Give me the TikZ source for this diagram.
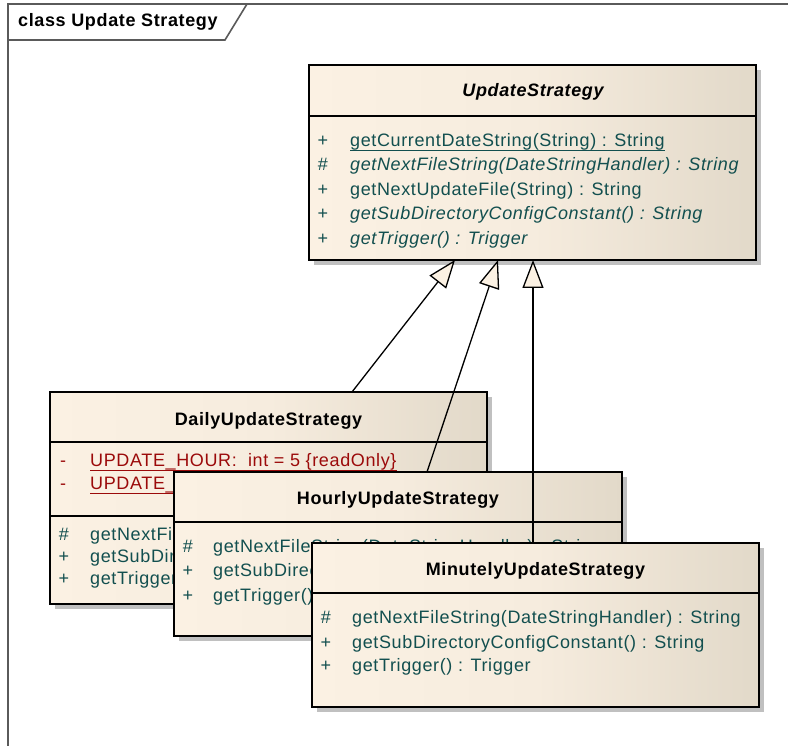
\documentclass[tikz,border=0pt]{standalone}
\usepackage{fontspec}
\usetikzlibrary{shadows,arrows.meta}

\newfontfamily\umlfam[LetterSpace=3.5]{Liberation Sans}
\newcommand\umlfont{\umlfam\fontsize{18pt}{21pt}\selectfont}

\definecolor{creamL}{HTML}{FBF1E3}
\definecolor{creamM}{HTML}{F6ECDE}
\definecolor{creamR}{HTML}{E2D9C9}
\definecolor{shadowgray}{HTML}{C0C0C0}
\definecolor{framegray}{HTML}{5A5A5A}
\definecolor{opteal}{HTML}{124F4F}
\definecolor{attrred}{HTML}{9B0A0A}

\pgfdeclarehorizontalshading{umlfill}{100bp}{%
  color(0bp)=(creamL); color(25bp)=(creamL); color(50bp)=(creamM);
  color(75bp)=(creamR); color(100bp)=(creamR)}

\tikzset{
  classbox/.style={rectangle, draw=black, line width=1.6pt, outer sep=0pt,
    inner sep=0pt, anchor=north west, shading=umlfill,
    drop shadow={shadow xshift=5pt, shadow yshift=-5pt, fill=shadowgray, opacity=1}},
  classname/.style={font=\umlfont\bfseries, text=black, inner sep=0pt, anchor=center},
  compsep/.style={line width=1.1pt, draw=black},
  vis/.style={font=\umlfont, inner sep=0pt, text height=13pt, text depth=4pt, anchor=center},
  member/.style={font=\umlfont, inner sep=0pt, text height=13pt, text depth=4pt, anchor=west},
  op/.style={text=opteal},
  attr/.style={text=attrred},
  staticop/.style={draw=opteal, line width=1pt},
  staticattr/.style={draw=attrred, line width=1.4pt},
  generalize/.style={draw=black, line width=1.3pt,
    -{Triangle[length=28pt, width=21pt, fill=creamL]}},
  frameline/.style={draw=framegray, line width=1.6pt}
}

\begin{document}
\begin{tikzpicture}[x=1pt, y=-1pt]
\useasboundingbox (0,0) rectangle (788,746);

% diagram frame with its name tab
\draw[frameline] (788,4) -- (8,4) -- (8,746);
\draw[frameline] (8,40) -- (225,40) -- (247,4);
\node[font=\umlfont\bfseries, anchor=west, inner sep=0pt] (frametitle) at (18,22) {class Update Strategy};

% abstract base class
\node[classbox, minimum width=447pt, minimum height=195pt] (base) at (309,65) {};
\draw[compsep] ([yshift=-51pt]base.north west) -- ([yshift=-51pt]base.north east);
\node[classname, font=\umlfont\bfseries\itshape] (baseName) at (533,92) {UpdateStrategy};
\node[vis, op] (bv1) at (323,142) {+};
\node[member, op] (bm1) at (350,142) {getCurrentDateString(String) : String};
\draw[staticop] (bm1.south west) -- (bm1.south east);
\node[vis, op] (bv2) at (323,166) {\#};
\node[member, op, font=\umlfont\itshape] (bm2) at (350,166) {getNextFileString(DateStringHandler) : String};
\node[vis, op] (bv3) at (323,191) {+};
\node[member, op] (bm3) at (350,191) {getNextUpdateFile(String) : String};
\node[vis, op] (bv4) at (323,215) {+};
\node[member, op, font=\umlfont\itshape] (bm4) at (350,215) {getSubDirectoryConfigConstant() : String};
\node[vis, op] (bv5) at (323,240) {+};
\node[member, op, font=\umlfont\itshape] (bm5) at (350,240) {getTrigger() : Trigger};

% daily strategy
\node[classbox, minimum width=437pt, minimum height=212pt] (daily) at (50,392) {};
\draw[compsep] ([yshift=-50pt]daily.north west) -- ([yshift=-50pt]daily.north east);
\draw[compsep] ([yshift=-124pt]daily.north west) -- ([yshift=-124pt]daily.north east);
\node[classname] (dailyName) at (268.5,421) {DailyUpdateStrategy};
\node[vis, attr] (dv1) at (63,462) {-};
\node[member, attr] (da1) at (90,462) {UPDATE\_HOUR:\ \ int = 5 \{readOnly\}};
\draw[staticattr] (da1.south west) -- (da1.south east);
\node[vis, attr] (dv2) at (63,485) {-};
\node[member, attr] (da2) at (90,485) {UPDATE\_\hspace{40pt}};
\draw[staticattr] (da2.south west) -- (da2.south east);
\node[vis, op] (dv3) at (64,536) {\#};
\node[member, op] (dm1) at (90,536) {getNextFileString(DateStringHandler) : String};
\node[vis, op] (dv4) at (64,558) {+};
\node[member, op] (dm2) at (90,558) {getSubDirectoryConfigConstant() : String};
\node[vis, op] (dv5) at (64,580) {+};
\node[member, op] (dm3) at (90,580) {getTrigger() : Trigger};

% generalizations of daily and hourly
\draw[generalize] ([xshift=302pt]daily.north west) -- ([xshift=146pt]base.south west);
\coordinate (hourlyTop) at (427,472);
\draw[generalize] (hourlyTop) -- ([xshift=189pt]base.south west);

% hourly strategy
\node[classbox, minimum width=448pt, minimum height=164pt] (hourly) at (174,472) {};
\draw[compsep] ([yshift=-50pt]hourly.north west) -- ([yshift=-50pt]hourly.north east);
\node[classname] (hourlyName) at (398,500) {HourlyUpdateStrategy};
\node[vis, op] (hv1) at (188,548) {\#};
\node[member, op] (hm1) at (213,548) {getNextFileString(DateStringHandler) : String};
\node[vis, op] (hv2) at (188,572) {+};
\node[member, op] (hm2) at (213,572) {getSubDirectoryConfigConstant() : String};
\node[vis, op] (hv3) at (188,597) {+};
\node[member, op] (hm3) at (213,597) {getTrigger() : Trigger};

% generalization of minutely
\coordinate (minutelyTop) at (533,543);
\draw[generalize] (minutelyTop) -- ([xshift=224pt]base.south west);

% minutely strategy
\node[classbox, minimum width=447pt, minimum height=164pt] (minutely) at (312,543) {};
\draw[compsep] ([yshift=-50pt]minutely.north west) -- ([yshift=-50pt]minutely.north east);
\node[classname] (minutelyName) at (535.5,571) {MinutelyUpdateStrategy};
\node[vis, op] (mv1) at (326,619) {\#};
\node[member, op] (mm1) at (352,619) {getNextFileString(DateStringHandler) : String};
\node[vis, op] (mv2) at (326,644) {+};
\node[member, op] (mm2) at (352,644) {getSubDirectoryConfigConstant() : String};
\node[vis, op] (mv3) at (326,667) {+};
\node[member, op] (mm3) at (352,667) {getTrigger() : Trigger};
\end{tikzpicture}
\end{document}
